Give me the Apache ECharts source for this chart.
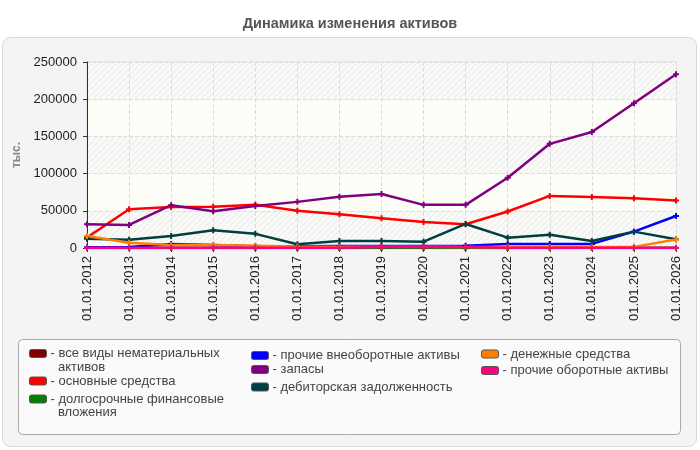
<!DOCTYPE html>
<html>
<head>
<meta charset="utf-8">
<script src="https://cdn.jsdelivr.net/npm/echarts@6/dist/echarts.min.js"></script>
<style>
  html, body { margin: 0; padding: 0; background: #fff; }
  #main { width: 700px; height: 450px; }
</style>
</head>
<body>
<div id="main"></div>
<script>
// Динамика изменения активов
const years = ['01.01.2012', '01.01.2013', '01.01.2014', '01.01.2015', '01.01.2016', '01.01.2017', '01.01.2018', '01.01.2019',
  '01.01.2020', '01.01.2021', '01.01.2022', '01.01.2023', '01.01.2024', '01.01.2025', '01.01.2026']
const yTicks = [0, 50000, 100000, 150000, 200000, 250000]

const intangible = [0, 0, 0, 0, 0, 0, 0, 0, 0, 0, 0, 0, 0, 0, 0]
const fixedAssets = [14000, 52000, 55000, 55500, 58000, 50000, 45500, 40000, 35000, 32000, 49000, 70000, 68500, 66800, 64000]
const longInvest = [0, 0, 0, 0, 0, 0, 0, 300, 300, 300, 0, 0, 0, 0, 0]
const otherNonCurrent = [1000, 1500, 5500, 4000, 2500, 2500, 2700, 2700, 2700, 3000, 5500, 5500, 5500, 22000, 43000]
const stocks = [32000, 31000, 57500, 49500, 56500, 62000, 69000, 72500, 58000, 58000, 94500, 140000, 156000, 194500, 233500]
const receivables = [12500, 11000, 16000, 24000, 19000, 5000, 9400, 9400, 8500, 32300, 13900, 17900, 9400, 22000, 11700]
const cash = [16000, 7000, 4000, 4000, 3000, 2000, 1800, 1800, 1800, 1500, 1500, 1500, 1500, 1500, 11500]
const otherCurrent = [300, 300, 300, 300, 300, 300, 300, 1300, 1300, 1300, 300, 300, 300, 300, 300]

const names = ['все виды нематериальных активов', 'основные средства', 'долгосрочные финансовые вложения',
  'прочие внеоборотные активы', 'запасы', 'дебиторская задолженность', 'денежные средства', 'прочие оборотные активы']
const seriesData = [intangible, fixedAssets, longInvest, otherNonCurrent, stocks, receivables, cash, otherCurrent]
const color = ['#800000', '#ff0000', '#008000', '#0000ff', '#800080', '#003f3f', '#ff8000', '#ff0080']

// первая строка подписи в легенде, вторая рисуется отдельно
const legendFirst = {
  'все виды нематериальных активов': 'все виды нематериальных',
  'долгосрочные финансовые вложения': 'долгосрочные финансовые'
}
const legendSecond = ['активов', 'вложения']

// штриховка фона
function makeHatch() {
  const c = document.createElement('canvas')
  c.width = 6
  c.height = 6
  const ctx = c.getContext('2d')
  ctx.fillStyle = '#f9f9f7'
  ctx.fillRect(0, 0, 6, 6)
  ctx.strokeStyle = '#e9e9e7'
  ctx.lineWidth = 1
  ctx.beginPath()
  ctx.moveTo(0, 6)
  ctx.lineTo(6, 0)
  ctx.moveTo(-1, 1)
  ctx.lineTo(1, -1)
  ctx.moveTo(5, 7)
  ctx.lineTo(7, 5)
  ctx.stroke()
  return c
}
const hatch = makeHatch()

const plus = 'path://M2,0H4V2H6V4H4V6H2V4H0V2H2Z'
const font = 'Liberation Sans, Arial, sans-serif'

const chart = echarts.init(document.getElementById('main'), null, { renderer: 'canvas' })

// одна позиция легенды, cy - центр строки
function legendItem(left, cy, name) {
  return {
    orient: 'vertical',
    left: left,
    top: cy - 6.5,
    padding: 0,
    data: [name],
    icon: 'roundRect',
    itemWidth: 17,
    itemHeight: 8,
    itemStyle: { borderColor: '#555', borderWidth: 1 },
    formatter: n => '- ' + (legendFirst[n] || n),
    textStyle: {
      fontFamily: font,
      fontSize: 13,
      color: '#444',
      lineHeight: 13,
      padding: [0, 0, 0, -1]
    },
    selectedMode: false
  }
}

function legendLine(x, cy, text) {
  return {
    type: 'text',
    x: x,
    y: cy,
    style: {
      text: text,
      fontFamily: font,
      fontSize: 13,
      fill: '#444',
      verticalAlign: 'middle'
    }
  }
}

const option = {
  color: color,
  animation: false,
  title: {
    text: 'Динамика изменения активов',
    left: 'center',
    top: 11,
    textStyle: {
      fontFamily: font,
      fontSize: 14.5,
      fontWeight: 'bold',
      color: '#555'
    }
  },
  graphic: [
    {
      type: 'rect',
      z: -10,
      shape: { x: 2.5, y: 37.5, width: 694, height: 409, r: 8 },
      style: { fill: '#f4f4f4', stroke: '#d8d8d8', lineWidth: 1 }
    },
    {
      type: 'rect',
      z: -5,
      shape: { x: 18.5, y: 339.5, width: 662, height: 95, r: 4 },
      style: { fill: '#fafafa', stroke: '#aaaaaa', lineWidth: 1 }
    },
    legendLine(58, 367, legendSecond[0]),
    legendLine(58, 412, legendSecond[1])
  ],
  legend: [
    legendItem(29, 353.5, names[0]),
    legendItem(29, 381, names[1]),
    legendItem(29, 399, names[2]),
    legendItem(251, 355.5, names[3]),
    legendItem(251, 369.5, names[4]),
    legendItem(251, 387, names[5]),
    legendItem(481, 354, names[6]),
    legendItem(481, 370.5, names[7])
  ],
  grid: {
    left: 87,
    right: 24,
    top: 62,
    bottom: 202,
    show: true,
    borderColor: '#dddddd',
    borderWidth: 1,
    backgroundColor: 'transparent'
  },
  xAxis: {
    type: 'category',
    boundaryGap: false,
    data: years,
    axisLabel: {
      rotate: 90,
      margin: 8,
      fontFamily: font,
      fontSize: 13,
      color: '#222'
    },
    axisTick: { show: true, alignWithLabel: true, length: 4, lineStyle: { color: '#333' } },
    axisLine: { show: true, lineStyle: { color: '#333' } },
    splitLine: { show: true, lineStyle: { type: 'dashed', color: '#dcdcdc' } }
  },
  yAxis: {
    type: 'value',
    min: yTicks[0],
    max: yTicks[yTicks.length - 1],
    interval: 50000,
    name: 'тыс.',
    nameLocation: 'middle',
    nameGap: 61,
    nameTextStyle: {
      fontFamily: font,
      fontSize: 12,
      fontWeight: 'bold',
      color: '#888'
    },
    axisLabel: {
      margin: 10,
      fontFamily: font,
      fontSize: 13,
      color: '#222',
      formatter: v => String(v)
    },
    axisTick: { show: true, length: 4, lineStyle: { color: '#333' } },
    axisLine: { show: true, lineStyle: { color: '#333' } },
    splitLine: { show: true, lineStyle: { type: 'dashed', color: '#dcdcdc' } },
    splitArea: {
      show: true,
      areaStyle: { color: [{ image: hatch, repeat: 'repeat' }, '#fdfdf8'] }
    }
  },
  series: names.map((n, i) => ({
    name: n,
    type: 'line',
    data: seriesData[i],
    symbol: plus,
    symbolSize: 6,
    showAllSymbol: true,
    lineStyle: { width: 2.5 },
    emphasis: { disabled: true }
  }))
}

chart.setOption(option)
</script>
</body>
</html>
